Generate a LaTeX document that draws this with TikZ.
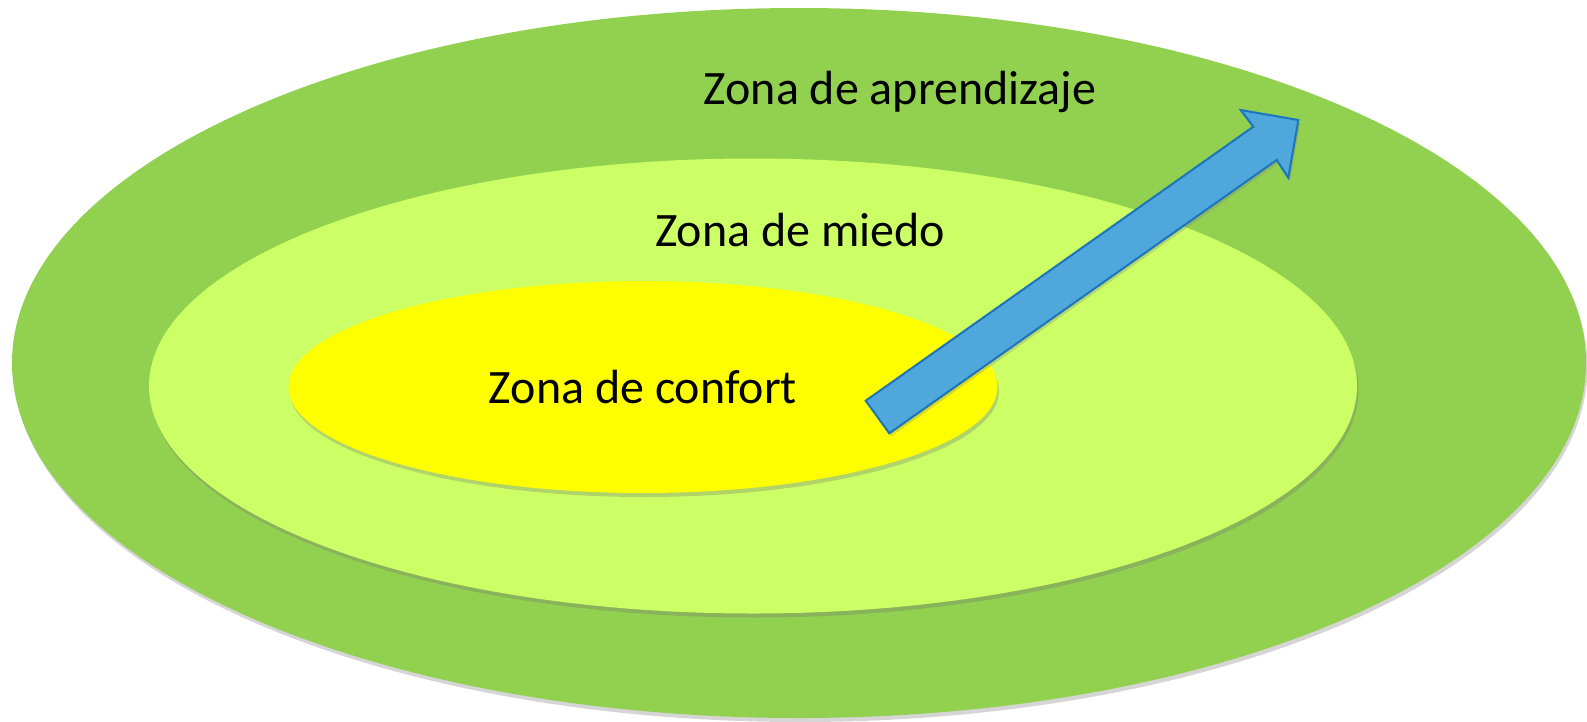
\documentclass[tikz,border=0pt]{standalone}
\usepackage{fontspec}
\setmainfont{Carlito}
\usetikzlibrary{shapes.geometric,shadows}
\definecolor{learn}{HTML}{92D050}
\definecolor{fear}{HTML}{CCFF66}
\definecolor{comfort}{HTML}{FFFF00}
\definecolor{arrowfill}{HTML}{4FA7DB}
\definecolor{arrowline}{HTML}{1B75BC}
\tikzset{
  zone/.style={ellipse, inner sep=0pt, drop shadow={shadow xshift=1.5pt, shadow yshift=-4pt, opacity=0.3, fill=black!55}},
  zlabel/.style={anchor=base, font=\fontsize{48}{57}\selectfont, text=black, inner sep=0pt},
  blockarrow/.style={fill=arrowfill, draw=arrowline, line width=2pt, line join=miter, drop shadow={shadow xshift=2pt, shadow yshift=-3pt, opacity=0.3, fill=black!50}}
}
\begin{document}
\begin{tikzpicture}[x=1pt,y=-1pt]
\useasboundingbox (0,0) rectangle (1587,721);
\node[zone, fill=learn, minimum width=1574pt, minimum height=710pt] (outer) at (799,363) {};
\node[zone, fill=fear, minimum width=1208pt, minimum height=455pt] (middle) at (753,386) {};
\node[zone, fill=comfort, minimum width=709pt, minimum height=212pt] (inner) at (643,387) {};
\node[zlabel] (tlearn) at (900,104) {Zona de aprendizaje};
\node[zlabel] (tfear) at (800,246) {Zona de miedo};
\node[zlabel] (tcomfort) at (643,403) {Zona de confort};
\coordinate (a1) at (865.7,400.7);
\coordinate (a2) at (1253.3,126.7);
\coordinate (a3) at (1240.7,110);
\coordinate (a4) at (1298.3,120);
\coordinate (a5) at (1288.3,177.7);
\coordinate (a6) at (1276.7,160);
\coordinate (a7) at (889.3,433.3);
\path[blockarrow] (a1) -- (a2) -- (a3) -- (a4) -- (a5) -- (a6) -- (a7) -- cycle;
\end{tikzpicture}
\end{document}
